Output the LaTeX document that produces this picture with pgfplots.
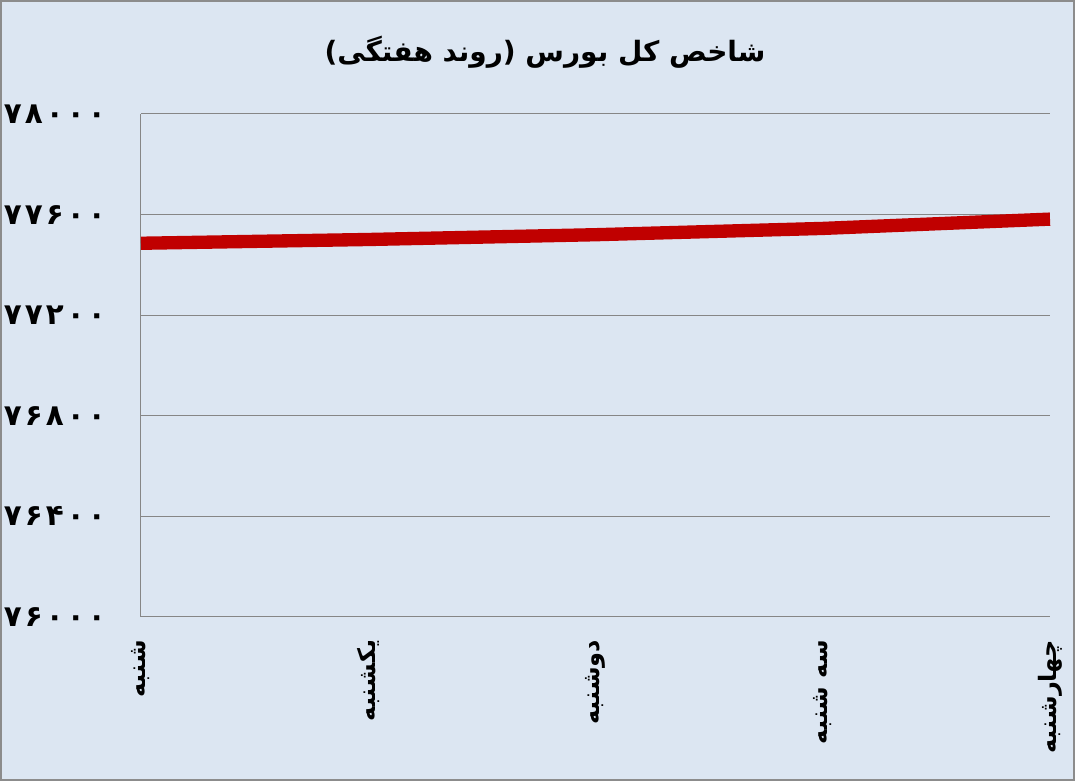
\documentclass[border=0pt]{standalone}
\usepackage{pgfplots}
\pgfplotsset{compat=1.18}
\usepackage{fontspec}
\TeXXeTstate=1
\newfontfamily\arabicfont[Script=Arabic]{DejaVu Sans}
\definecolor{bg}{HTML}{DCE6F2}
\definecolor{myred}{HTML}{C00000}
\definecolor{gridc}{HTML}{868686}
\definecolor{framec}{HTML}{8C8C8C}
\newcommand{\dgt}[1]{\makebox[15.75pt][c]{#1}}
\newcommand{\pnum}[5]{{\arabicfont\bfseries\dgt{#1}\dgt{#2}\dgt{#3}\dgt{#4}\dgt{#5}}}
\begin{document}
\begin{tikzpicture}[x=1pt,y=1pt]
\useasboundingbox (0,0) rectangle (806.25,585.75);
\fill[bg] (0,0) rectangle (806.25,585.75);
\draw[framec, line width=1.2pt] (0.6,0.6) rectangle (805.65,585.15);
\node[font=\fontsize{21}{24}\selectfont] at (408.75,546.4) {\arabicfont\bfseries\beginR شاخص کل بورس (روند هفتگی)\endR};
\begin{axis}[
  at={(105.75pt,123pt)}, anchor=south west,
  scale only axis, width=681.75pt, height=377.25pt,
  xmin=0, xmax=4, ymin=76000, ymax=78000,
  scaled y ticks=false,
  axis lines=left,
  axis line style={-, draw=gridc, line width=0.75pt},
  major tick length=0pt,
  ymajorgrids, grid style={gridc, line width=0.75pt},
  ytick={76000,76400,76800,77200,77600,78000},
  yticklabels={\pnum{۷}{۶}{۰}{۰}{۰},\pnum{۷}{۶}{۴}{۰}{۰},\pnum{۷}{۶}{۸}{۰}{۰},\pnum{۷}{۷}{۲}{۰}{۰},\pnum{۷}{۷}{۶}{۰}{۰},\pnum{۷}{۸}{۰}{۰}{۰}},
  yticklabel style={anchor=east, inner sep=0pt, xshift=-25pt, yshift=0pt, font=\fontsize{22}{25}\selectfont},
  xtick={0,1,2,3,4},
  xticklabels={{\arabicfont\bfseries\beginR شنبه\endR},{\arabicfont\bfseries\beginR یکشنبه\endR},{\arabicfont\bfseries\beginR دوشنبه\endR},{\arabicfont\bfseries\beginR سه شنبه\endR},{\arabicfont\bfseries\beginR چهارشنبه\endR}},
  xticklabel style={yshift=-17pt, rotate=90, anchor=east, inner sep=0pt, font=\fontsize{18}{21}\selectfont},
  clip=false,
]
\addplot[myred, line width=10pt, line join=round] coordinates {(0,77486) (1,77501) (2,77520) (3,77545) (4,77582)};
\end{axis}
\end{tikzpicture}
\end{document}
